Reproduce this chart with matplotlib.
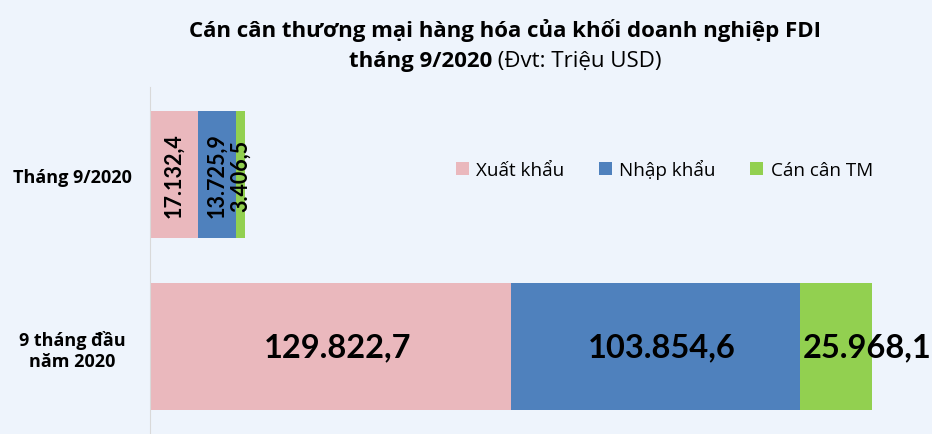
import numpy as np
import matplotlib
matplotlib.use('Agg')
import matplotlib.pyplot as plt

categories = ['Tháng 9/2020', '9 tháng đầu\nnăm 2020']
series_names = ['Xuất khẩu', 'Nhập khẩu', 'Cán cân TM']
xuat_khau = [17132.4, 129822.7]
nhap_khau = [13725.9, 103854.6]
can_can = [3406.5, 25968.1]
labels_top = ['17.132,4', '13.725,9', '3.406,5']
labels_bottom = ['129.822,7', '103.854,6', '25.968,1']

colors = ['#EAB8BD', '#4F81BD', '#92D050']
bg = '#EEF4FC'

plt.rcParams['font.family'] = ['Open Sans', 'DejaVu Sans']

fig = plt.figure(figsize=(9.32, 4.35), dpi=100, facecolor=bg)
ax = fig.add_axes([150 / 932, 0.0, 780 / 932, 1 - 88 / 435])
ax.set_facecolor(bg)

y = np.arange(len(categories))
left = np.zeros(len(categories))
bars = []
for vals, name, c in zip([xuat_khau, nhap_khau, can_can], series_names, colors):
    b = ax.barh(y, vals, left=left, height=0.74, color=c, label=name)
    bars.append(b)
    left = left + np.array(vals)

ax.set_xlim(0, 280600)
ax.set_ylim(1.51, -0.51)

# value labels
for i, b in enumerate(bars):
    r = b[0]
    ax.text(r.get_x() + r.get_width() / 2, r.get_y() + r.get_height() / 2, labels_top[i],
            rotation=90, ha='center', va='center', fontsize=15.5, fontweight='bold',
            family=['Lato', 'DejaVu Sans'])
    r = b[1]
    if i == 2:
        # last label spills past the bar end, starting near its left edge
        ax.text(r.get_x() + 1000, r.get_y() + r.get_height() / 2, labels_bottom[i],
                ha='left', va='center', fontsize=23.5, fontweight='bold',
                family=['Lato', 'DejaVu Sans'])
    else:
        ax.text(r.get_x() + r.get_width() / 2 + 2500, r.get_y() + r.get_height() / 2, labels_bottom[i],
                ha='center', va='center', fontsize=23.5, fontweight='bold',
                family=['Lato', 'DejaVu Sans'])

ax.set_xticks([])
ax.set_yticks(y)
ax.set_yticklabels(categories, fontsize=13, fontweight='bold', ha='center')
ax.tick_params(axis='y', length=0, pad=56)
for s in ['top', 'right', 'bottom']:
    ax.spines[s].set_visible(False)
ax.spines['left'].set_color('#D9D9D9')

ax.legend(loc='center left', bbox_to_anchor=(0.37, 0.764), ncol=3, frameon=False,
          fontsize=13.6, handlelength=0.7, handleheight=0.7, columnspacing=1.8, handletextpad=0.4)

# title
fig.text(0.542, 1 - 30 / 435, 'Cán cân thương mại hàng hóa của khối doanh nghiệp FDI',
         ha='center', va='center', fontsize=16, fontweight='bold')
t1 = fig.text(0, 1 - 61 / 435, 'tháng 9/2020', ha='left', va='center', fontsize=16, fontweight='bold')
t2 = fig.text(0, 1 - 61 / 435, ' (Đvt: Triệu USD)', ha='left', va='center', fontsize=16)
fig.canvas.draw()
r = fig.canvas.get_renderer()
w1 = t1.get_window_extent(r).width
w2 = t2.get_window_extent(r).width
x0 = 0.542 * 932 - (w1 + w2) / 2
t1.set_x(x0 / 932)
t2.set_x((x0 + w1) / 932)

fig.savefig('out.png', dpi=100, facecolor=bg)
